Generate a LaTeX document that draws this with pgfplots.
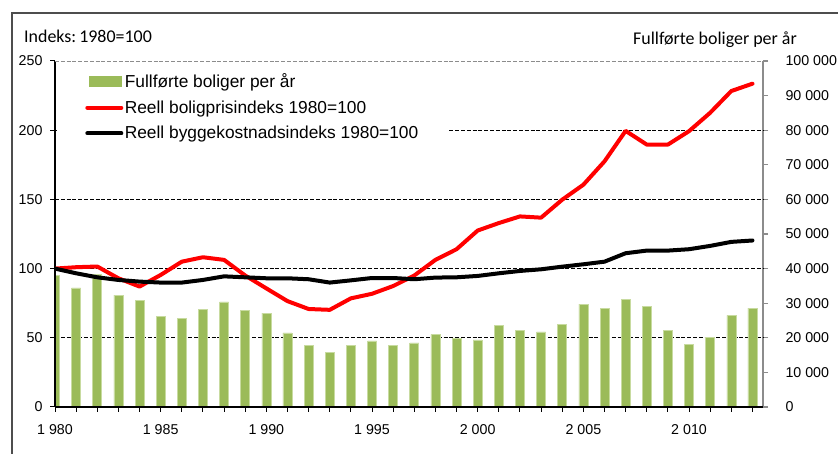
\documentclass[border=0pt]{standalone}
\usepackage{pgfplots}
\pgfplotsset{compat=1.18}
\usepackage{fontspec}
\setmainfont{Liberation Sans}
\newfontfamily\calibri{Carlito}
\definecolor{barc}{HTML}{9BBB59}
\definecolor{baredge}{HTML}{C8DBA0}
\definecolor{framec}{HTML}{4D4D4D}
\definecolor{raxis}{HTML}{8C8C8C}
\newcommand\tickfont{\fontsize{14.3}{17}\selectfont}
\newcommand\legfont{\fontsize{17.4}{20}\selectfont}
\newcommand\titfont{\calibri\fontsize{18}{21}\selectfont}

\pgfplotstableread{
year units
1980 38000
1981 34400
1982 38400
1983 32300
1984 30700
1985 26100
1986 25700
1987 28200
1988 30400
1989 27900
1990 27100
1991 21400
1992 17800
1993 15700
1994 17800
1995 19100
1996 17800
1997 18500
1998 21000
1999 19800
2000 19400
2001 23500
2002 22100
2003 21700
2004 23900
2005 29700
2006 28600
2007 31100
2008 29000
2009 22100
2010 18000
2011 20200
2012 26500
2013 28600
}\bars

\pgfplotstableread{
year price cost
1980 100   100
1981 101   96.6
1982 101.5 93.7
1983 93    91.8
1984 87    90.6
1985 95.4  89.9
1986 105   89.9
1987 108.2 91.8
1988 106.3 94.4
1989 95    93.7
1990 85.7  93
1991 76.5  93
1992 70.8  92.3
1993 70.2  89.9
1994 78.5  91.5
1995 81.8  93.2
1996 87.4  93.2
1997 95    92.3
1998 106.3 93.5
1999 114   93.7
2000 127.5 94.7
2001 132.9 96.6
2002 137.7 98.3
2003 136.8 99.5
2004 149.8 101.4
2005 160.6 103.1
2006 177.5 105
2007 199.5 111.1
2008 189.6 113
2009 189.6 113
2010 199.3 114
2011 212.6 116.4
2012 228.3 119.3
2013 233.6 120.3
}\lines

\begin{document}
\begin{tikzpicture}[x=1bp,y=1bp]
\useasboundingbox (0,0) rectangle (838,454);
\draw[framec, line width=1.2bp] (12,-5) -- (12,441) -- (845,441);

% bars on right axis (drawn first, behind)
\begin{axis}[
  at={(55bp,47bp)}, anchor=south west, scale only axis,
  width=708bp, height=346bp,
  xmin=1980, xmax=2013.5, ymin=0, ymax=100000,
  axis x line=none, axis y line*=right,
  axis line style={raxis, line width=1.5bp, -},
  scaled y ticks=false,
  ytick={0,10000,20000,30000,40000,50000,60000,70000,80000,90000,100000},
  yticklabels={0,10 000,20 000,30 000,40 000,50 000,60 000,70 000,80 000,90 000,100 000},
  tick align=outside, major tick length=5bp,
  ytick style={raxis, line width=1.2bp},
  yticklabel style={font=\tickfont, xshift=14bp},
  extra y ticks={20000,40000,60000,80000},
  extra y tick labels={},
  extra y tick style={grid=major, tick style={draw=none}},
  major grid style={black, line width=0.8bp, dash pattern=on 4bp off 1.8bp},
  ybar, bar width=9bp,
]
\addplot[fill=barc, draw=baredge, line width=0.6bp] table[x=year, y=units] {\bars};
\end{axis}

% lines on left axis
\begin{axis}[
  at={(55bp,47bp)}, anchor=south west, scale only axis,
  width=708bp, height=346bp,
  xmin=1980, xmax=2013.5, ymin=0, ymax=250,
  axis x line*=bottom, axis y line*=left,
  axis line style={black, line width=1.8bp, -},
  xtick={1980,1985,1990,1995,2000,2005,2010},
  xticklabels={1 980,1 985,1 990,1 995,2 000,2 005,2 010},
  minor xtick={1980,1981,...,2013},
  ytick={0,50,100,150,200,250},
  tick align=outside, major tick length=5bp, minor tick length=5bp,
  tick style={black, line width=1bp},
  ticklabel style={font=\tickfont},
  xticklabel style={yshift=-9bp},
  yticklabel style={xshift=-4bp},
  /pgf/number format/assume math mode=true,
  extra y ticks={250}, extra y tick labels={},
  extra y tick style={grid=major, tick style={draw=none}},
  major grid style={raxis, line width=0.8bp, dash pattern=on 4bp off 1.8bp},
  legend image code/.code={\draw[#1] (0bp,0bp) -- (34bp,0bp);},
  legend cell align=left,
  legend style={at={(0.003,0.994)}, anchor=north west, draw=none, fill=white,
    font=\legfont, inner xsep=28bp, inner ysep=9bp, row sep=8.5bp,
    nodes={inner sep=1.5bp}},
]
\addlegendimage{legend image code/.code={\fill[barc] (2bp,-5bp) rectangle (34bp,5bp);}}
\addlegendentry{Fullførte boliger per år}
\addplot[red, line width=4bp, line join=round, line cap=round] table[x=year, y=price] {\lines};
\addlegendentry{Reell boligprisindeks 1980=100}
\addplot[black, line width=4bp, line join=round, line cap=round] table[x=year, y=cost] {\lines};
\addlegendentry{Reell byggekostnadsindeks 1980=100}
\end{axis}

\node[anchor=base west, inner sep=0pt, font=\titfont] at (24,411.5) {Indeks:\,1980=100};
\node[anchor=base west, inner sep=0pt, font=\titfont] at (633,409) {Fullførte boliger per år};
\end{tikzpicture}
\end{document}
